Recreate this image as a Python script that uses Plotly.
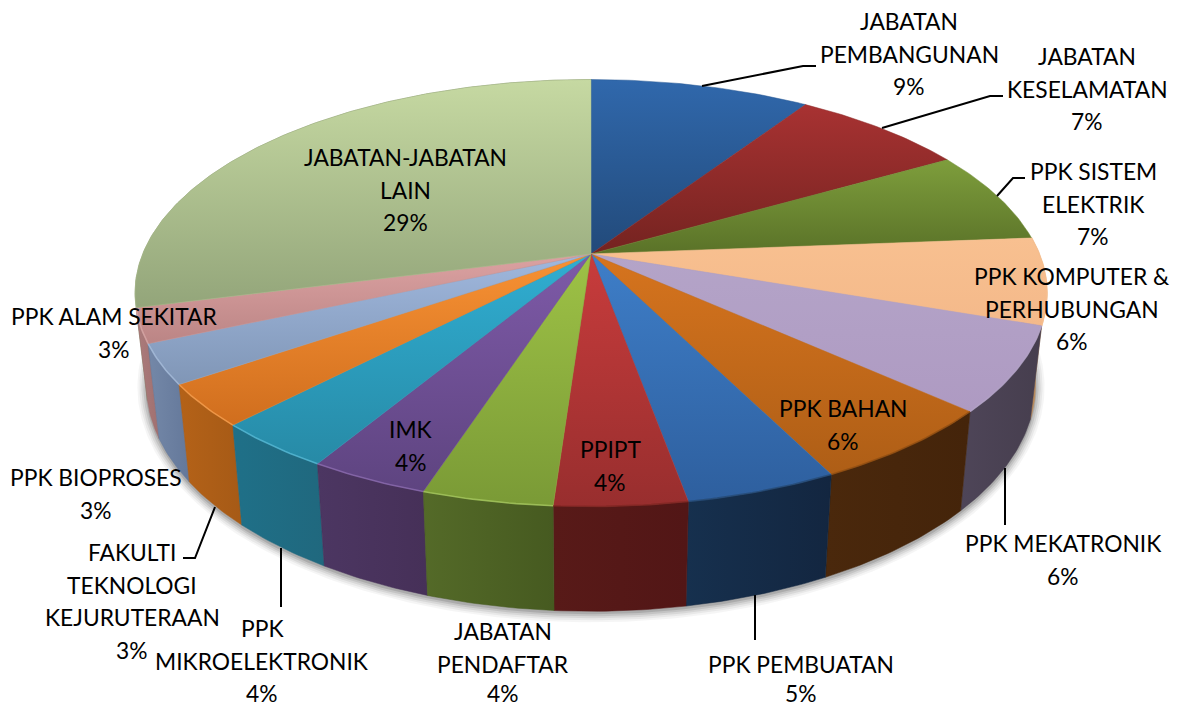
import math
import plotly.graph_objects as go

# ---- data ----
categories = [
    "JABATAN\nPEMBANGUNAN", "JABATAN\nKESELAMATAN", "PPK SISTEM\nELEKTRIK",
    "PPK KOMPUTER &\nPERHUBUNGAN", "PPK MEKATRONIK", "PPK BAHAN", "PPK PEMBUATAN",
    "PPIPT", "JABATAN\nPENDAFTAR", "IMK", "PPK\nMIKROELEKTRONIK",
    "FAKULTI\nTEKNOLOGI\nKEJURUTERAAN", "PPK BIOPROSES", "PPK ALAM SEKITAR",
    "JABATAN-JABATAN\nLAIN",
]
values = [9.3, 7.4, 7.05, 6.55, 6.4, 5.9, 4.55, 3.95, 3.9, 3.6, 3.6, 3.2, 3.0, 2.6, 29.0]
percent_labels = ["9%", "7%", "7%", "6%", "6%", "6%", "5%", "4%", "4%", "4%", "4%", "3%", "3%", "3%", "29%"]

# ---- styles ----
top_light = ["#3068AC", "#A83232", "#7E9E3C", "#F8C090", "#B4A4C8", "#D6741E", "#3E7EC8", "#C83C3C",
             "#9EC246", "#7E5AA8", "#30AED2", "#F89234", "#A0B8DE", "#DCA2A2", "#C6D9A2"]
top_dark = ["#224A7A", "#742320", "#5A7228", "#F4B98A", "#AE9AC2", "#AE5E16", "#2E5F9E", "#982E2E",
            "#7A9A36", "#5E4480", "#278AA6", "#D06E1E", "#8096B6", "#BB8585", "#93A57A"]
top_edge = ["#2A5A94", "#8E2C2A", "#6C8832", "#F6BC8C", "#B09EC4", "#C26A1A", "#3670B4", "#B03636",
            "#8CAE3E", "#6E5094", "#2C9CBC", "#E48028", "#90A8CA", "#CC9494", "#AEC08E"]
side_left = ["#1C3C62", "#601C1C", "#4A5C20", "#B98A5C", "#4E4558", "#4A280C", "#16304E", "#581A18",
             "#546A28", "#4C3662", "#1F7088", "#B46218", "#7488A8", "#AC7C7C", "#7A8A62"]
side_right = ["#1C3C62", "#601C1C", "#4A5C20", "#B98A5C", "#463E4E", "#44240A", "#132640", "#521616",
              "#465A20", "#463058", "#20687E", "#A65A16", "#64789A", "#A07070", "#7A8A62"]
rim = ["#3068AC", "#A83232", "#7E9E3C", "#F8C090", "#B4A4C8", "#8A4A10", "#24466E", "#7A2420",
       "#A6C860", "#8C6CB0", "#58BAD6", "#F8A050", "#A8BEDC", "#D8A8A8", "#C6D9A2"]

# label placement: (x of line centre, y of first line centre)
label_pos = [
    (909, 21), (1087, 56), (1093, 171), (1072, 276), (1063, 543), (843, 408), (801, 664),
    (610, 449), (503, 631), (411, 429), (262, 628), (132, 552), (96, 477), (114, 316), (405, 157),
]
line_gap = 32.6
lowest_line = 693
font_px = 22.8
leaders = [
    [(702, 86), (803, 66), (816, 66)],
    [(882, 128), (990, 96), (1003, 96)],
    [(997, 196), (1013, 178), (1025, 178)],
    [(1005, 468), (1005, 525)],
    [(755, 595), (755, 640)],
    [(281, 548), (281, 607)],
    [(215, 507), (195, 558), (183, 558)],
]

# geometry of the projected disc
CX, CY, A, B = 591, 293, 456, 213.5          # top ellipse
BX, BY, BA, BB = 591, 385, 444.6, 226.3      # bottom ellipse
T = 0.183                                    # perspective shift of the pie centre


def project(theta):
    u, v = math.sin(theta), math.cos(theta)
    d = 1 + T * v
    return u * math.sqrt(1 - T * T) / d, (v + T) / d


def top_pt(th):
    u, v = project(th)
    return CX + A * u, CY - B * v


def bot_pt(th):
    u, v = project(th)
    return BX + BA * u, BY - BB * v


total = sum(values)
edges = [0.0]
for val in values:
    edges.append(edges[-1] + val / total * 2 * math.pi)


def arc(a0, a1):
    n = max(2, int((a1 - a0) / math.radians(0.8)) + 1)
    return [a0 + (a1 - a0) * i / n for i in range(n + 1)]


fig = go.Figure()

# soft shadow under the disc
shadow_th = arc(0, 2 * math.pi)
for grow, alpha in [(9, 0.04), (7, 0.05), (5, 0.07), (3, 0.09), (1, 0.12)]:
    pts = [bot_pt(t) for t in shadow_th]
    fig.add_trace(go.Scatter(
        x=[BX + (p[0] - BX) * (1 + grow / BA) for p in pts],
        y=[BY + 2 + (p[1] - BY) * (1 + grow / BB) for p in pts],
        mode="lines", line=dict(width=0), fill="toself",
        fillcolor=f"rgba(0,0,0,{alpha})", hoverinfo="skip", showlegend=False))

# outer walls, back to front
order = [3, 14, 13, 4, 12, 5, 11, 6, 10, 7, 9, 8]
for i in order:
    ths = arc(edges[i], edges[i + 1])
    pts = [top_pt(t) for t in ths] + [bot_pt(t) for t in reversed(ths)]
    xs = [p[0] for p in pts]
    ys = [p[1] for p in pts]
    fig.add_trace(go.Scatter(
        x=xs + [xs[0]], y=ys + [ys[0]], mode="lines", line=dict(width=0.5, color=side_right[i]),
        fill="toself",
        fillgradient=dict(type="horizontal", start=min(xs), stop=max(xs),
                          colorscale=[[0, side_left[i]], [1, side_right[i]]]),
        hoverinfo="skip", showlegend=False))

# top faces
for i in range(len(values)):
    ths = arc(edges[i], edges[i + 1])
    pts = [top_pt(t) for t in ths] + [(CX, CY - B * T)]
    xs = [p[0] for p in pts]
    ys = [p[1] for p in pts]
    fig.add_trace(go.Scatter(
        x=xs + [xs[0]], y=ys + [ys[0]], mode="lines", line=dict(width=0.5, color=top_edge[i]),
        fill="toself",
        fillgradient=dict(type="vertical", start=min(ys), stop=max(ys),
                          colorscale=[[0, top_light[i]], [1, top_dark[i]]]),
        hoverinfo="skip", showlegend=False))

# rim highlight on the front edge
for i in range(3, len(values) - 1):
    pts = [top_pt(t) for t in arc(edges[i], edges[i + 1])]
    fig.add_trace(go.Scatter(
        x=[p[0] for p in pts], y=[p[1] for p in pts], mode="lines",
        line=dict(width=1.6, color=rim[i]), opacity=0.75,
        hoverinfo="skip", showlegend=False))

# leader lines
for pts in leaders:
    fig.add_trace(go.Scatter(
        x=[p[0] for p in pts], y=[p[1] for p in pts], mode="lines",
        line=dict(width=2, color="black"), hoverinfo="skip", showlegend=False))

# labels
annotations = []
for name, pct, (lx, ly) in zip(categories, percent_labels, label_pos):
    for j, line in enumerate(name.split("\n") + [pct]):
        annotations.append(dict(
            x=lx, y=min(ly + j * line_gap, lowest_line), xref="x", yref="y", text=line, showarrow=False,
            xanchor="center", yanchor="middle",
            font=dict(family="Lato", size=font_px, color="black")))

fig.update_layout(
    width=1179, height=707, margin=dict(l=0, r=0, t=0, b=0),
    paper_bgcolor="white", plot_bgcolor="white", showlegend=False,
    xaxis=dict(range=[0, 1179], visible=False, fixedrange=True),
    yaxis=dict(range=[707, 0], visible=False, fixedrange=True),
    annotations=annotations,
)
fig.write_html("out.html", config={"displayModeBar": False},
               post_script="document.body.style.margin='0';document.documentElement.style.overflow='hidden';")
